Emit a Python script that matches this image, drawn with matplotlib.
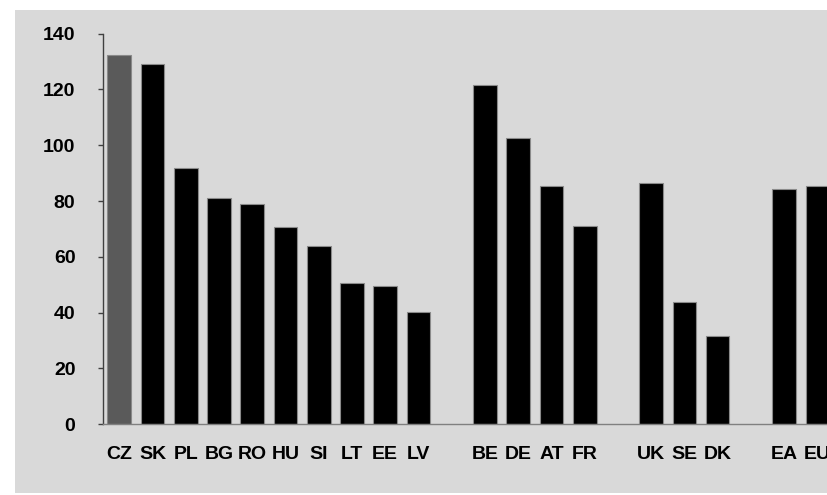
import matplotlib.pyplot as plt
from matplotlib.patches import Rectangle

plt.rcParams['font.family'] = ['Liberation Sans', 'DejaVu Sans']

# country groups, separated on the axis by one empty slot
groups = [
    ['CZ', 'SK', 'PL', 'BG', 'RO', 'HU', 'SI', 'LT', 'EE', 'LV'],
    ['BE', 'DE', 'AT', 'FR'],
    ['UK', 'SE', 'DK'],
    ['EA', 'EU'],
]
values = [
    [132.5, 129.2, 91.8, 81.0, 79.0, 70.6, 63.9, 50.8, 49.6, 40.1],
    [121.5, 102.6, 85.5, 71.2],
    [86.4, 43.9, 31.5],
    [84.4, 85.5],
]
highlight = 'CZ'

labels, heights, xs = [], [], []
pos = 0
for names, vals in zip(groups, values):
    for n, v in zip(names, vals):
        labels.append(n)
        heights.append(v)
        xs.append(pos)
        pos += 1
    pos += 1

colors = ['#5a5a5a' if n == highlight else 'black' for n in labels]

fig = plt.figure(figsize=(8.28, 4.95), dpi=100, facecolor='white')
# grey panel behind the chart
fig.patches.append(Rectangle((15 / 828, 2 / 495), 1 - 15 / 828, 1 - 12 / 495,
                             transform=fig.transFigure, facecolor='#d9d9d9',
                             edgecolor='none', zorder=-1))

ax = fig.add_axes([102.7 / 828, 1 - 424.3 / 495, 1 - 102.7 / 828, (424.3 - 33.7) / 495])
ax.set_zorder(2)
ax.set_facecolor('none')
ax.bar(xs, heights, width=0.713, color=colors, edgecolor='#8a8a8a', linewidth=0.8)

ax.set_xlim(-0.5, 21.32)
ax.set_ylim(0, 140)
ax.set_yticks(range(0, 141, 20))
ax.set_xticks(xs)
ax.set_xticklabels(labels)

for s in ['top', 'right']:
    ax.spines[s].set_visible(False)
ax.spines['left'].set_color('#404040')
ax.spines['bottom'].set_color('#808080')
ax.spines['left'].set_linewidth(1.0)
ax.spines['bottom'].set_linewidth(1.0)

ax.tick_params(axis='y', length=3.6, width=1.0, color='#404040', pad=16,
               labelsize=14)
ax.tick_params(axis='x', length=0, pad=15.5, labelsize=14)
for t in ax.get_xticklabels() + ax.get_yticklabels():
    t.set_fontweight('bold')

fig.savefig('out.png', dpi=100, facecolor='white')
